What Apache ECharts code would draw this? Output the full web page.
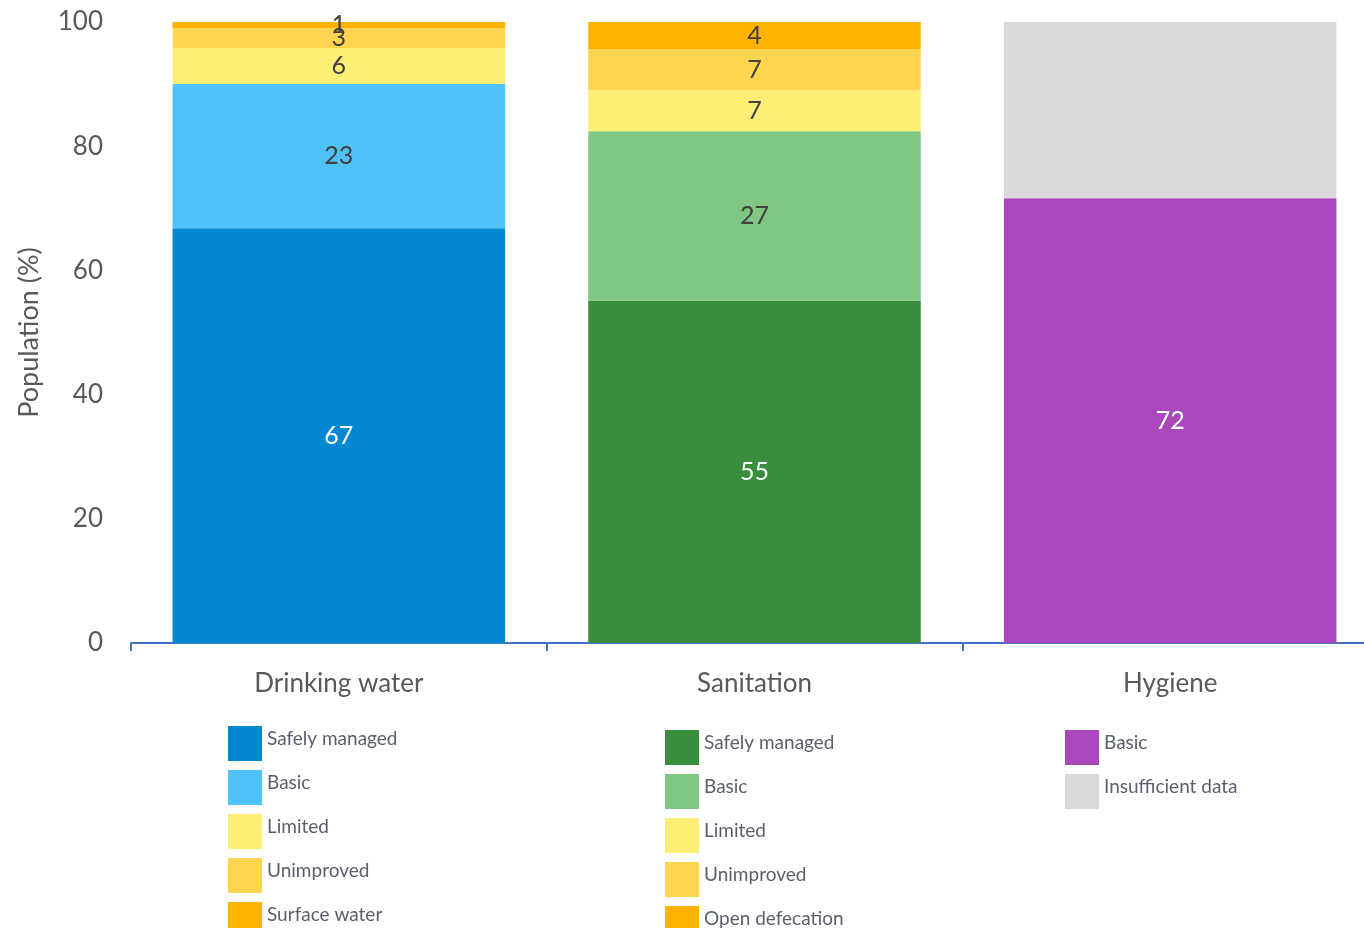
<!DOCTYPE html>
<html>
<head>
<meta charset="utf-8">
<script src="https://cdn.jsdelivr.net/npm/echarts@6/dist/echarts.min.js"></script>
<style>html,body{margin:0;padding:0;background:#fff;overflow:hidden}#c{width:1378px;height:928px}</style>
</head>
<body>
<div id="c"></div>
<script>
const categories = ['Drinking water', 'Sanitation', 'Hygiene'];
const yTicks = [0, 20, 40, 60, 80, 100];

const waterNames = ['Safely managed', 'Basic', 'Limited', 'Unimproved', 'Surface water'];
const waterValues = [66.8, 23.2, 5.8, 3.2, 1.0];
const waterColors = ['#0288D1', '#4FC3F7', '#FFEE75', '#FFD54F', '#FFB300'];

const sanNames = ['Safely managed', 'Basic', 'Limited', 'Unimproved', 'Open defecation'];
const sanValues = [55.1, 27.3, 6.6, 6.6, 4.4];
const sanColors = ['#388E3C', '#81C784', '#FFEE75', '#FFD54F', '#FFB300'];

const hygNames = ['Basic', 'Insufficient data'];
const hygValues = [71.6, 28.4];
const hygColors = ['#AB47BC', '#D9D9D9'];
const hygShowLabel = [true, false];

const darkFill = ['#0288D1', '#388E3C', '#AB47BC'];
const FONT = 'Lato, "Open Sans", sans-serif';

const series = [];
function addGroup(prefix, idx, names, values, colors, showLabel) {
  names.forEach((n, i) => {
    const data = [null, null, null];
    data[idx] = values[i];
    series.push({
      name: prefix + '|' + n,
      type: 'bar',
      stack: 'total',
      barWidth: '80%',
      data: data,
      itemStyle: { color: colors[i] },
      label: {
        show: showLabel ? showLabel[i] : true,
        position: 'inside',
        fontFamily: FONT,
        fontSize: 25,
        color: darkFill.includes(colors[i]) ? '#ffffff' : '#404040',
        formatter: p => Math.round(p.value)
      }
    });
  });
}
addGroup('w', 0, waterNames, waterValues, waterColors);
addGroup('s', 1, sanNames, sanValues, sanColors);
addGroup('h', 2, hygNames, hygValues, hygColors, hygShowLabel);

function legend(prefix, names, left, top) {
  return {
    orient: 'vertical',
    left: left, top: top,
    width: 300, height: 400,
    padding: 0,
    icon: 'rect',
    itemWidth: 34, itemHeight: 35, itemGap: 9,
    selectedMode: false,
    data: names.map(n => prefix + '|' + n),
    formatter: name => '{t|' + name.split('|')[1] + '}',
    textStyle: {
      fontFamily: FONT, fontSize: 19, color: '#5A5F6E',
      rich: { t: { fontFamily: FONT, fontSize: 19, color: '#5A5F6E', padding: [0, 0, 10, 0] } }
    }
  };
}

const chart = echarts.init(document.getElementById('c'));
chart.setOption({
  animation: false,
  backgroundColor: '#ffffff',
  grid: { left: 131, right: 0, top: 22, bottom: 285, containLabel: false },
  legend: [
    legend('w', waterNames, 228, 726),
    legend('s', sanNames, 665, 730),
    legend('h', hygNames, 1065, 730)
  ],
  xAxis: {
    type: 'category',
    data: categories,
    axisLine: { lineStyle: { color: '#4472C4', width: 2 } },
    axisTick: { show: true, length: 8, interval: 0, lineStyle: { color: '#4472C4', width: 2 } },
    axisLabel: { fontFamily: FONT, fontSize: 26, color: '#595959', margin: 28 }
  },
  yAxis: {
    type: 'value',
    min: 0, max: 100, interval: 20,
    name: 'Population (%)',
    nameLocation: 'middle',
    nameGap: 88,
    nameTextStyle: { fontFamily: FONT, fontSize: 27, color: '#595959' },
    axisLine: { show: false },
    axisTick: { show: false },
    splitLine: { show: false },
    axisLabel: { fontFamily: FONT, fontSize: 26, color: '#595959', margin: 28,
      formatter: v => yTicks.includes(v) ? String(v) : '' }
  },
  series: series
});
</script>
</body>
</html>
